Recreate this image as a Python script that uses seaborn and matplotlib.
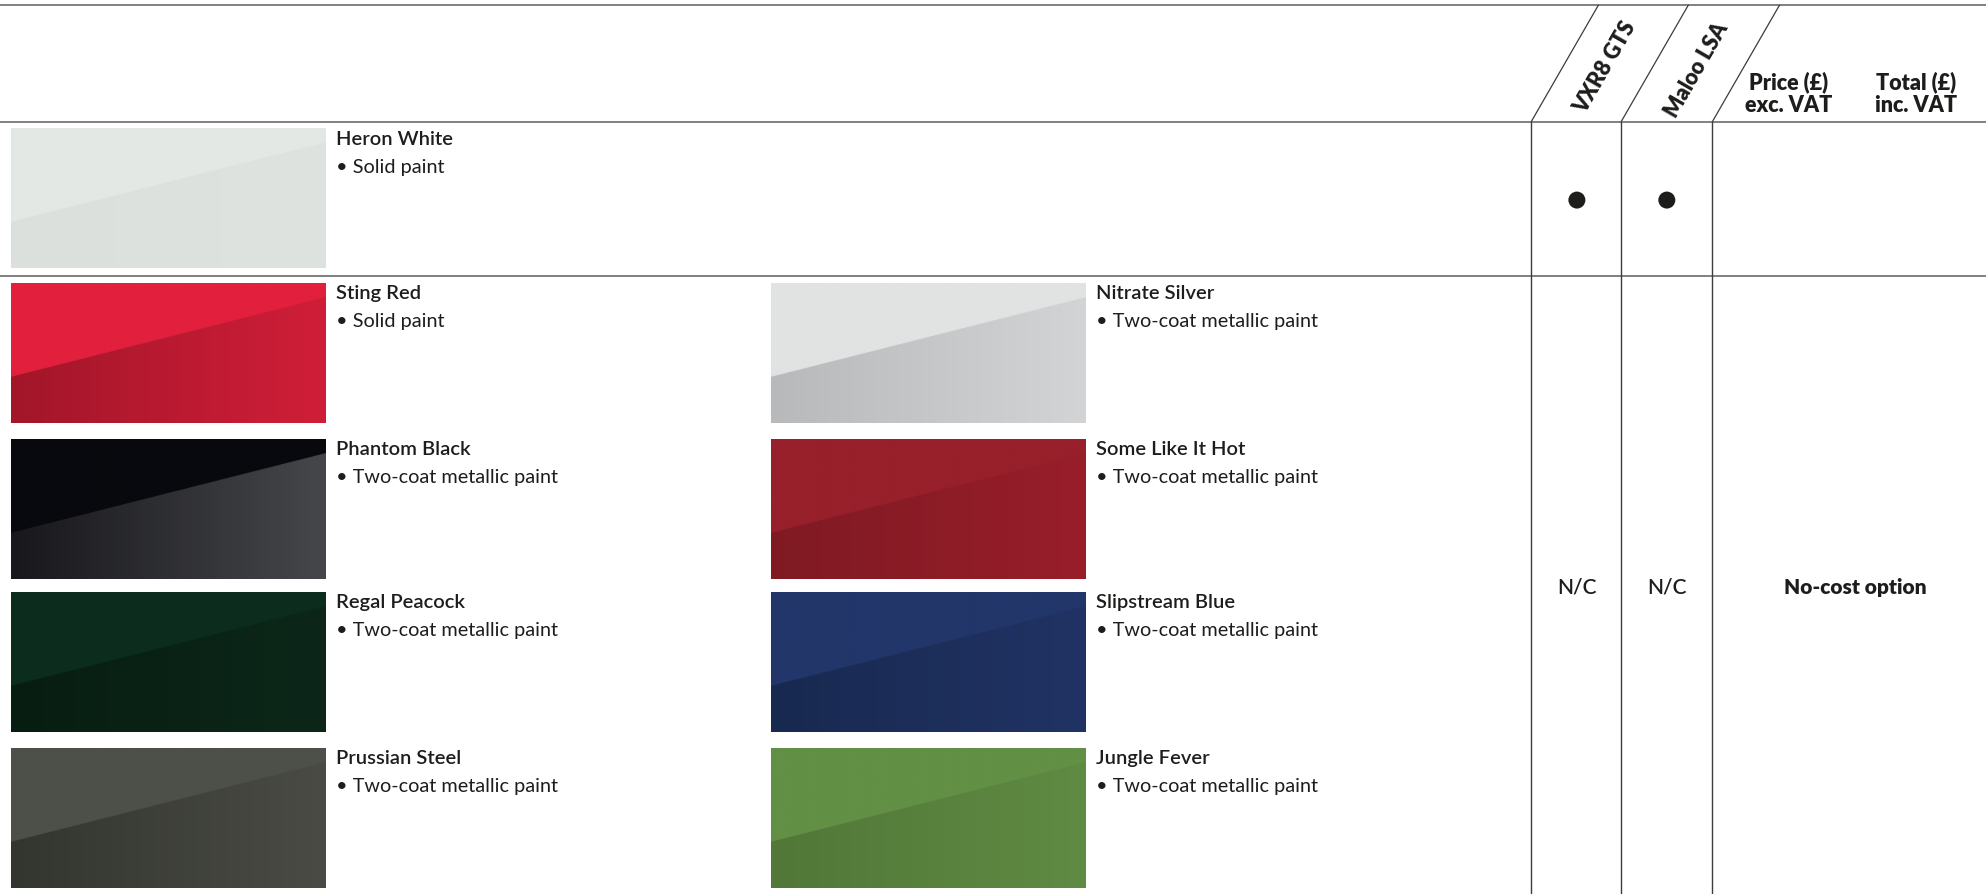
#%%
import numpy as np
import pandas as pd
import seaborn as sns
import matplotlib.pyplot as plt
from matplotlib.colors import to_rgb

# %%
sns.set_style('white')
plt.rcParams['font.family'] = ['Lato', 'DejaVu Sans']

# paint colours: name, finish, top tint, bottom-left shade, bottom-right shade
standard_name = 'Heron White'
standard_desc = 'Solid paint'
standard_cols = ('#e3e8e5', '#dbe0dd', '#dee3e0')
standard_marks = ['●', '●']

left_names = ['Sting Red', 'Phantom Black', 'Regal Peacock', 'Prussian Steel']
left_desc = ['Solid paint', 'Two-coat metallic paint', 'Two-coat metallic paint', 'Two-coat metallic paint']
left_top = ['#e2203d', '#08090e', '#0c2d1d', '#4d5049']
left_lo = ['#a2162a', '#18181c', '#081d12', '#33352f']
left_hi = ['#d01e38', '#46474b', '#0c2719', '#494b44']

right_names = ['Nitrate Silver', 'Some Like It Hot', 'Slipstream Blue', 'Jungle Fever']
right_desc = ['Two-coat metallic paint'] * 4
right_top = ['#e1e3e3', '#97202b', '#22366a', '#629045']
right_lo = ['#b8b9bb', '#7f1a23', '#182950', '#527738']
right_hi = ['#d3d4d5', '#981e2a', '#213364', '#5f8b43']

models = ['VXR8 GTS', 'Maloo LSA']
option_marks = ['N/C', 'N/C']
option_price = 'No-cost option'

# %%
W, H = 1568, 706
fig = plt.figure(figsize=(19.86, 8.94), dpi=100)
ax = fig.add_axes([0, 0, 1, 1])
ax.set_xlim(0, W)
ax.set_ylim(H, 0)
ax.axis('off')


def swatch(x0, y0, top, lo, hi, w=248, h=110):
    ny, nx = 440, 992
    xs = np.linspace(0, 1, nx)
    ys = np.linspace(0, 1, ny)
    grad = np.array(to_rgb(lo))[None, :] * (1 - xs[:, None]) + np.array(to_rgb(hi))[None, :] * xs[:, None]
    img = np.tile(grad[None, :, :], (ny, 1, 1))
    edge = 0.67 - 0.57 * xs
    mask = ys[:, None] < edge[None, :]
    img[mask] = to_rgb(top)
    ax.imshow(img, extent=(x0, x0 + w, y0 + h, y0), aspect='auto', interpolation='antialiased', zorder=1)


def label(x, y, name, desc):
    ax.text(x, y + 8, name, fontsize=14.5, fontweight='semibold', color='#1d1d1b', va='center')
    ax.text(x, y + 30, '• ' + desc, fontsize=14.3, color='#1d1d1b', va='center')


# standard colour row
swatch(9, 102, *standard_cols)
label(265, 102, standard_name, standard_desc)

row_tops = [224, 347, 468, 591]
for i in range(4):
    swatch(9, row_tops[i], left_top[i], left_lo[i], left_hi[i])
    label(265, row_tops[i], left_names[i], left_desc[i])
    swatch(609, row_tops[i], right_top[i], right_lo[i], right_hi[i])
    label(865, row_tops[i], right_names[i], right_desc[i])

# grid lines
for y in [4, 96, 218]:
    ax.plot([0, W], [y, y], color='#6b6b6b', lw=1.2, zorder=2)
col_x = [1209, 1280, 1352]
for x in col_x:
    ax.plot([x, x], [96, H], color='#3c3c3c', lw=1.0, zorder=2)
    ax.plot([x, x + 53], [96, 4], color='#3c3c3c', lw=0.9, zorder=2)

# header
mcx = [1245, 1316]
for x, y, m in zip([1267, 1340], [53, 55], models):
    ax.text(x, y, m, rotation=60, fontsize=15.5, fontweight='heavy', color='#1d1d1b',
            ha='center', va='center', rotation_mode='anchor')
ax.text(1412, 74, 'Price (£)\nexc. VAT', fontsize=15.5, fontweight='heavy', color='#1d1d1b',
        ha='center', va='center', linespacing=1.12)
ax.text(1513, 74, 'Total (£)\ninc. VAT', fontsize=15.5, fontweight='heavy', color='#1d1d1b',
        ha='center', va='center', linespacing=1.12)

# availability
dots = pd.DataFrame(dict(x=mcx, y=[158] * len(standard_marks), mark=standard_marks))
sns.scatterplot(data=dots, x='x', y='y', s=150, color='#1d1d1b', edgecolor='none', ax=ax, zorder=3, legend=False)
ax.set_xlim(0, W)
ax.set_ylim(H, 0)
ax.axis('off')

for x, t in zip(mcx, option_marks):
    ax.text(x, 464, t, fontsize=15, color='#1d1d1b', ha='center', va='center', fontweight='semibold')
ax.text(1465, 464, option_price, fontsize=15, fontweight='heavy', color='#1d1d1b', ha='center', va='center')

fig.savefig('out.png', dpi=100, facecolor='white')
